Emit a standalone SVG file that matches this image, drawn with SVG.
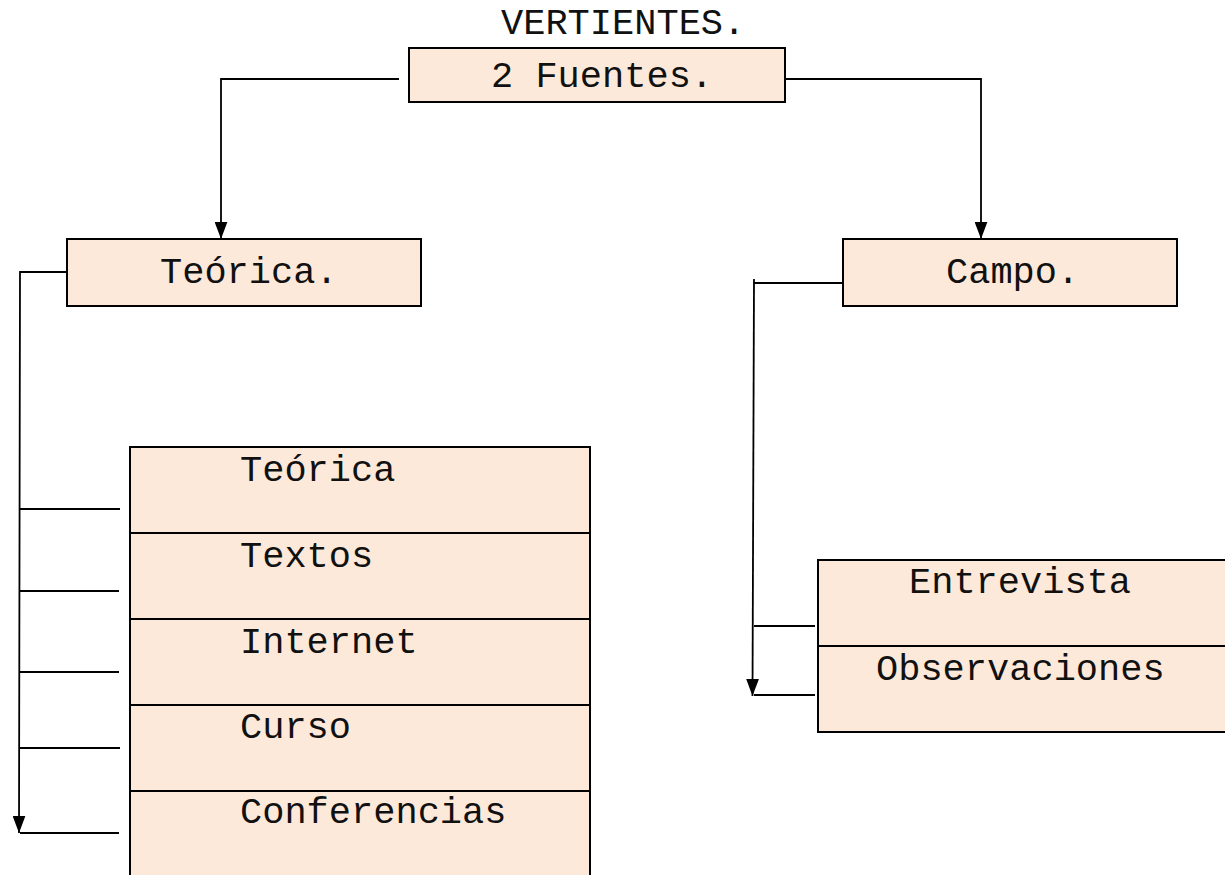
<svg xmlns="http://www.w3.org/2000/svg" width="1225" height="875" viewBox="0 0 1225 875">
<style>
.box{fill:#FDE9D9;stroke:#000;stroke-width:2}
.ln{fill:none;stroke:#000;stroke-width:1.8}
.t{font-family:"Liberation Mono","Courier New",monospace;font-size:37px;fill:#111}
</style>
<defs>
<marker id="ah" markerUnits="userSpaceOnUse" markerWidth="17" markerHeight="13" refX="16" refY="6" orient="auto" viewBox="0 0 16 12">
<path d="M0,0 L16,6 L0,12 Z" fill="#000"/>
</marker>
</defs>
<rect width="1225" height="875" fill="#fff"/>
<text id="title" class="t" x="501" y="34">VERTIENTES.</text>
<g id="connectors">
<polyline class="ln" points="399,79 221,79 221,239" marker-end="url(#ah)"/>
<polyline class="ln" points="786,79 981,79 981,239" marker-end="url(#ah)"/>
<polyline class="ln" points="67,272 20,272 19,833" marker-end="url(#ah)"/>
<line class="ln" x1="20" y1="509" x2="120" y2="509"/>
<line class="ln" x1="20" y1="591" x2="119" y2="591"/>
<line class="ln" x1="20" y1="672" x2="119" y2="672"/>
<line class="ln" x1="20" y1="748" x2="120" y2="748"/>
<line class="ln" x1="20" y1="833" x2="119" y2="833"/>
<line class="ln" x1="843" y1="283" x2="754" y2="283"/>
<line class="ln" x1="754" y1="279" x2="752.5" y2="696" marker-end="url(#ah)"/>
<line class="ln" x1="754" y1="626" x2="815" y2="626"/>
<line class="ln" x1="754" y1="695" x2="815" y2="695"/>
</g>
<g id="fuentes">
<rect class="box" x="409" y="48" width="376" height="54"/>
<text class="t" x="491" y="87">2 Fuentes.</text>
</g>
<g id="teorica">
<rect class="box" x="67" y="239" width="354" height="67"/>
<text class="t" x="160" y="283">Teórica.</text>
</g>
<g id="campo">
<rect class="box" x="843" y="239" width="334" height="67"/>
<text class="t" x="946" y="283">Campo.</text>
</g>
<g id="teorica-list">
<rect class="box" x="130" y="447" width="460" height="86"/>
<text class="t" x="240" y="481">Teórica</text>
</g>
<g id="textos">
<rect class="box" x="130" y="533" width="460" height="86"/>
<text class="t" x="240" y="567">Textos</text>
</g>
<g id="internet">
<rect class="box" x="130" y="619" width="460" height="86"/>
<text class="t" x="240" y="653">Internet</text>
</g>
<g id="curso">
<rect class="box" x="130" y="705" width="460" height="86"/>
<text class="t" x="240" y="738">Curso</text>
</g>
<g id="conferencias">
<rect class="box" x="130" y="791" width="460" height="100"/>
<text class="t" x="240" y="823">Conferencias</text>
</g>
<g id="entrevista">
<rect class="box" x="818" y="560" width="420" height="86"/>
<text class="t" x="909" y="593">Entrevista</text>
</g>
<g id="observaciones">
<rect class="box" x="818" y="646" width="420" height="86"/>
<text class="t" x="876" y="680">Observaciones</text>
</g>
</svg>
